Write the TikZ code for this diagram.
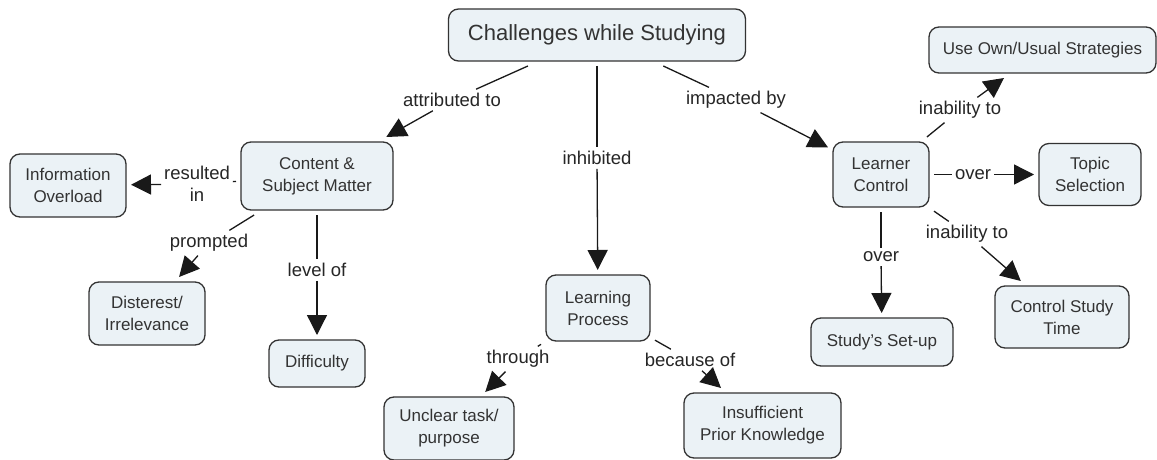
\documentclass[tikz,border=0pt]{standalone}
\usepackage{fontspec}
\setmainfont{Liberation Sans}
\usetikzlibrary{arrows.meta}
\definecolor{conceptfill}{HTML}{EBF2F6}
\definecolor{inkgray}{HTML}{333333}
\tikzset{
  concept/.style={draw=inkgray, line width=1.3pt, fill=conceptfill, rounded corners=10pt,
    align=center, font=\fontsize{17pt}{22pt}\selectfont, text=inkgray, outer sep=5pt, inner sep=0pt},
  linklabel/.style={font=\fontsize{18.5pt}{22pt}\selectfont, text=black!85, align=center,
    inner xsep=3pt, inner ysep=4pt, outer sep=0pt},
  link/.style={line width=1.3pt, draw=black!90},
  arrowlink/.style={link, -{Triangle[length=20pt,width=20pt]}}
}
\begin{document}
\begin{tikzpicture}[x=1pt,y=-1pt]
\clip (0,0) rectangle (1157,460);
\fill[white] (0,0) rectangle (1157,460);

% concepts
\node[concept, minimum width=297pt, minimum height=52pt, font=\fontsize{22pt}{26pt}\selectfont] (top) at (597,35) {Challenges while Studying};
\node[concept, minimum width=152pt, minimum height=68pt] (content) at (317,176) {Content \&\\Subject Matter};
\node[concept, minimum width=116pt, minimum height=63pt] (overload) at (68,185.5) {Information\\Overload};
\node[concept, minimum width=116pt, minimum height=63pt] (disint) at (147,313.5) {Disterest/\\Irrelevance};
\node[concept, minimum width=96pt, minimum height=47pt] (difficulty) at (317,363.5) {Difficulty};
\node[concept, minimum width=104pt, minimum height=66pt] (process) at (598,308) {Learning\\Process};
\node[concept, minimum width=130pt, minimum height=63pt] (unclear) at (449,428.5) {Unclear task/\\purpose};
\node[concept, minimum width=157pt, minimum height=65pt] (prior) at (762.5,425.5) {Insufficient\\Prior Knowledge};
\node[concept, minimum width=96pt, minimum height=65pt] (control) at (881,174.5) {Learner\\Control};
\node[concept, minimum width=227pt, minimum height=46pt] (strategies) at (1042.5,50) {Use Own/Usual Strategies};
\node[concept, minimum width=102pt, minimum height=62pt] (topic) at (1090,174.5) {Topic\\Selection};
\node[concept, minimum width=142pt, minimum height=48pt] (setup) at (882,342) {Study's Set-up};
\node[concept, minimum width=134pt, minimum height=62pt] (time) at (1062,317) {Control Study\\Time};

% linking phrases
\node[linklabel] (attr) at (452,100) {attributed to};
\node[linklabel] (inhib) at (597,158) {inhibited};
\node[linklabel] (impact) at (736,100) {impacted by};
\node[linklabel] (result) at (197,184) {resulted\\in};
\node[linklabel] (prompt) at (209,243) {prompted};
\node[linklabel] (level) at (317,270) {level of};
\node[linklabel] (through) at (518,359) {through};
\node[linklabel] (because) at (690,360) {because of};
\node[linklabel] (inabA) at (960,110) {inability to};
\node[linklabel] (overA) at (973,174.5) {over};
\node[linklabel] (inabB) at (967,234) {inability to};
\node[linklabel] (overB) at (881,257) {over};

% connections
\draw[link] (top) -- (attr);      \draw[arrowlink] (attr) -- (content);
\draw[link] (top) -- (inhib);     \draw[arrowlink] (inhib) -- (process);
\draw[link] (top) -- (impact);    \draw[arrowlink] (impact) -- (control);
\draw[link] (content) -- (result);  \draw[arrowlink] (result) -- (overload);
\draw[link] (content) -- (prompt);  \draw[arrowlink] (prompt) -- (disint);
\draw[link] (content) -- (level);   \draw[arrowlink] (level) -- (difficulty);
\draw[link] (process) -- (through); \draw[arrowlink] (through) -- (unclear);
\draw[link] (process) -- (because); \draw[arrowlink] (because) -- (prior);
\draw[link] (control) -- (inabA);   \draw[arrowlink] (inabA) -- (strategies);
\draw[link] (control) -- (overA);   \draw[arrowlink] (overA) -- (topic);
\draw[link] (control) -- (inabB);   \draw[arrowlink] (inabB) -- (time);
\draw[link] (control) -- (overB);   \draw[arrowlink] (overB) -- (setup);
\end{tikzpicture}
\end{document}
